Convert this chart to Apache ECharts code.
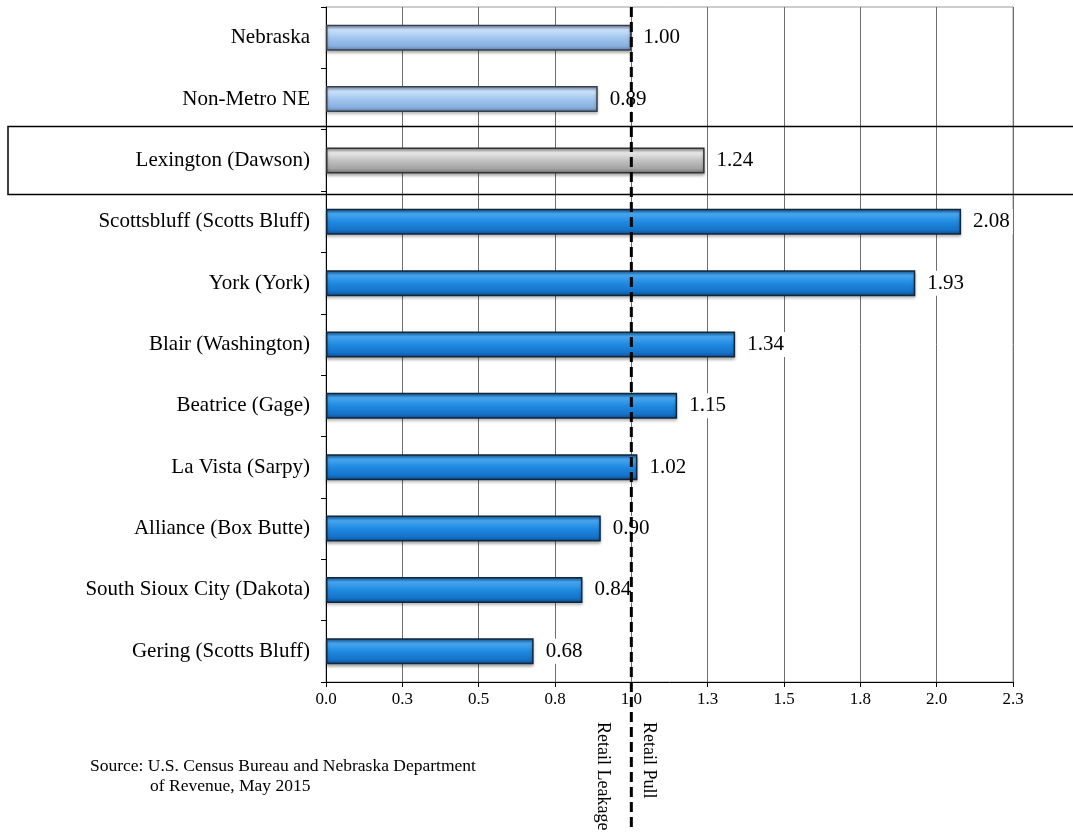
<!DOCTYPE html>
<html>
<head>
<meta charset="utf-8">
<script src="https://cdn.jsdelivr.net/npm/echarts@6/dist/echarts.min.js"></script>
<style>html,body{margin:0;padding:0;background:#fff;}#c{width:1073px;height:832px;}</style>
</head>
<body>
<div id="c"></div>
<script>
const categories = ['Nebraska','Non-Metro NE','Lexington (Dawson)','Scottsbluff (Scotts Bluff)','York (York)','Blair (Washington)','Beatrice (Gage)','La Vista (Sarpy)','Alliance (Box Butte)','South Sioux City (Dakota)','Gering (Scotts Bluff)'];
const values = [1.00, 0.89, 1.24, 2.08, 1.93, 1.34, 1.15, 1.02, 0.90, 0.84, 0.68];
const groups = ['state','state','focus','peer','peer','peer','peer','peer','peer','peer','peer'];
const tickLabels = ['0.0','0.3','0.5','0.8','1.0','1.3','1.5','1.8','2.0','2.3'];
const referenceValue = 1.0;
const sourceLines = ['Source: U.S. Census Bureau and Nebraska Department', 'of Revenue, May 2015'];

const FONT = '"Liberation Serif", "Times New Roman", serif';
function grad(stops){
  return {type:'linear',x:0,y:0,x2:0,y2:1,colorStops:stops.map((c,i)=>({offset:[0,0.18,0.5,0.82,1][i],color:c}))};
}
const styles = {
  state: {color: grad(['#6a90c0','#cfe4fb','#a2c6ef','#88afdf','#5a7ca8']), borderColor:'#3a3f48'},
  focus: {color: grad(['#7a7a7a','#ececec','#c2c2c2','#a3a3a3','#6a6a6a']), borderColor:'#333'},
  peer:  {color: grad(['#0b57a0','#4aa8f2','#1f8ae0','#1572c8','#0a4a88']), borderColor:'#12263a'}
};

const chart = echarts.init(document.getElementById('c'));
chart.setOption({
  animation:false,
  grid:{left:326,right:60,top:7,bottom:150,show:true,borderColor:'#9a9a9a',borderWidth:1,containLabel:false},
  xAxis:{type:'value',min:0,max:2.25,interval:0.25,
    axisLine:{show:true,lineStyle:{color:'#000',width:1}},
    axisTick:{show:true,length:5,lineStyle:{color:'#000'}},
    axisLabel:{fontFamily:FONT,fontSize:17,color:'#000',margin:9,formatter:(v)=>tickLabels[Math.round(v/0.25)]},
    splitLine:{show:true,lineStyle:{color:'#6e6e6e',width:1}}
  },
  yAxis:{type:'category',data:categories,inverse:true,
    axisLine:{show:true,lineStyle:{color:'#000',width:1}},
    axisTick:{show:true,length:5,lineStyle:{color:'#000'}},
    axisLabel:{fontFamily:FONT,fontSize:21,color:'#000',margin:16}
  },
  series:[{type:'bar',barWidth:26,
    data:values.map((v,i)=>({value:v,itemStyle:{color:styles[groups[i]].color,borderColor:styles[groups[i]].borderColor,borderWidth:1.5,shadowBlur:3,shadowOffsetY:2,shadowColor:'rgba(0,0,0,0.3)'}})),
    label:{show:true,position:'right',distance:9,formatter:(p)=>p.value.toFixed(2),fontFamily:FONT,fontSize:21,color:'#000',backgroundColor:'#fff',padding:[2,3]}
  }]
});

const lx = chart.convertToPixel({xAxisIndex:0}, referenceValue);
const ly = chart.convertToPixel({yAxisIndex:0}, categories[2]);
chart.setOption({graphic:[
  {type:'rect',z:50,shape:{x:8,y:ly-34,width:1100,height:68},style:{fill:'none',stroke:'#000',lineWidth:1.5}},
  {type:'line',z:100,shape:{x1:lx,y1:7,x2:lx,y2:832},style:{stroke:'#000',lineWidth:3,lineDash:[10,5]}},
  {type:'text',z:100,x:lx-29,y:722,rotation:-Math.PI/2,style:{text:'Retail Leakage',font:'18px '+FONT,fill:'#000',textAlign:'left',textVerticalAlign:'middle'}},
  {type:'text',z:100,x:lx+17,y:722,rotation:-Math.PI/2,style:{text:'Retail Pull',font:'18px '+FONT,fill:'#000',textAlign:'left',textVerticalAlign:'middle'}},
  {type:'text',z:100,x:90,y:766,style:{text:sourceLines[0],font:'17.5px '+FONT,fill:'#000',textVerticalAlign:'middle'}},
  {type:'text',z:100,x:150,y:786,style:{text:sourceLines[1],font:'17.5px '+FONT,fill:'#000',textVerticalAlign:'middle'}}
]});
</script>
</body>
</html>
